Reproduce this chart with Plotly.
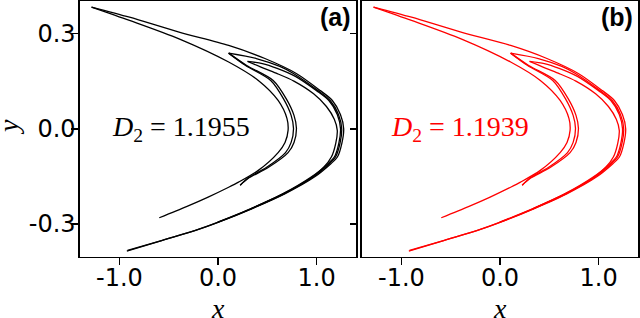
import plotly.graph_objects as go

# ---- data (x, y pairs along each visible strand) ----
outer1_y = [0.383, 0.351, 0.304, 0.262, 0.221, 0.174, 0.12, 0.089, 0.045, 0.0, -0.045, -0.089, -0.110, -0.152, -0.205, -0.252, -0.294, -0.320, -0.351, -0.385]
outer1_x = [-1.283, -0.898, -0.395, 0.108, 0.476, 0.794, 1.038, 1.160, 1.242, 1.275, 1.257, 1.211, 1.145, 0.978, 0.677, 0.342, 0.007, -0.227, -0.563, -0.925]

outer2_y = [0.238, 0.221, 0.196, 0.174, 0.12, 0.089, 0.045, 0.0, -0.045, -0.089, -0.110, -0.152, -0.205, -0.252, -0.294, -0.320, -0.351, -0.383]
outer2_x = [0.108, 0.389, 0.627, 0.765, 1.015, 1.138, 1.222, 1.255, 1.238, 1.192, 1.128, 0.965, 0.668, 0.335, 0.002, -0.230, -0.565, -0.918]

outer3_y = [0.212, 0.205, 0.190, 0.165, 0.12, 0.089, 0.045, 0.0, -0.045, -0.089, -0.110, -0.152, -0.205, -0.252]
outer3_x = [0.30, 0.45, 0.60, 0.785, 1.00, 1.125, 1.21, 1.243, 1.226, 1.18, 1.115, 0.955, 0.662, 0.332]

outer4_y = [0.212, 0.195, 0.175, 0.15, 0.11, 0.07, 0.03, -0.005, -0.045, -0.089, -0.120, -0.152, -0.205, -0.252, -0.294]
outer4_x = [0.30, 0.43, 0.59, 0.77, 0.97, 1.10, 1.18, 1.21, 1.195, 1.15, 1.075, 0.945, 0.655, 0.328, -0.003]

inner_y = [0.383, 0.341, 0.283, 0.210, 0.152, 0.089, 0.032, -0.005, -0.043, -0.075, -0.131, -0.168, -0.184, -0.215, -0.245, -0.280]
inner_x = [-1.283, -0.898, -0.395, 0.108, 0.409, 0.610, 0.700, 0.711, 0.680, 0.610, 0.409, 0.208, 0.108, -0.100, -0.320, -0.596]

hook1_y = [0.238, 0.199, 0.152, 0.094, 0.042, 0.001, -0.043, -0.075, -0.122, -0.156, -0.178]
hook1_x = [0.108, 0.291, 0.560, 0.693, 0.771, 0.796, 0.771, 0.711, 0.509, 0.308, 0.225]

hook2_y = [0.238, 0.199, 0.152, 0.094, 0.042, 0.001, -0.043, -0.075, -0.122, -0.156, -0.178]
hook2_x = [0.108, 0.280, 0.535, 0.665, 0.742, 0.766, 0.742, 0.685, 0.490, 0.300, 0.225]

strands = [
    (outer1_x, outer1_y), (outer2_x, outer2_y), (outer3_x, outer3_y),
    (outer4_x, outer4_y), (inner_x, inner_y), (hook1_x, hook1_y), (hook2_x, hook2_y),
]

panel_labels = ["(a)", "(b)"]
d2_values = ["1.1955", "1.1939"]
colors = ["#000000", "#ff0000"]

x_ticks = [-1.0, 0.0, 1.0]
x_ticktext = ["-1.0", "0.0", "1.0"]
y_ticks = [-0.3, 0.0, 0.3]
y_ticktext = ["-0.3", "0.0", "0.3"]

W, H = 640, 318
fig = go.Figure()

for k, (axx, axy) in enumerate([("x", "y"), ("x2", "y2")]):
    for sx, sy in strands:
        fig.add_trace(go.Scatter(
            x=sx, y=sy, mode="lines", xaxis=axx, yaxis=axy,
            line=dict(color=colors[k], width=1.3, shape="spline", smoothing=0.8),
            showlegend=False, hoverinfo="skip"))

# empty trace to host the inner mirrored ticks of panel (a)
fig.add_trace(go.Scatter(x=[], y=[], xaxis="x", yaxis="y3", showlegend=False))

tickfont = dict(family="DejaVu Sans, Verdana, sans-serif", size=24, color="black")
xr = [-1.4, 1.4]
yr = [-0.402, 0.402]
ydom = [(H - 256.5) / H, (H - 1) / H]

common_x = dict(range=xr, tickvals=x_ticks, ticktext=x_ticktext, ticks="outside", ticklen=7,
                tickwidth=1.5, tickcolor="black", showline=True, linecolor="black", linewidth=1.6,
                mirror=True, showgrid=False, zeroline=False, tickfont=tickfont, automargin=False,
                ticklabelstandoff=-8)
fig.update_layout(
    template="none",
    width=W, height=H, margin=dict(l=0, r=0, t=0, b=0, pad=0),
    paper_bgcolor="white", plot_bgcolor="white",
    xaxis=dict(domain=[80 / W, 356 / W], anchor="y", **common_x),
    xaxis2=dict(domain=[362 / W, 638 / W], anchor="y2", **common_x),
    yaxis=dict(domain=ydom, anchor="x", range=yr, tickvals=y_ticks, ticktext=y_ticktext,
               ticks="outside", ticklen=7, tickwidth=1.5, tickcolor="black",
               showline=True, linecolor="black", linewidth=1.6, mirror=True,
               showgrid=False, zeroline=False, tickfont=tickfont, automargin=False,
               ticklabelstandoff=-9),
    yaxis3=dict(overlaying="y", side="right", anchor="x", range=yr, tickvals=y_ticks,
                ticks="inside", ticklen=6, tickwidth=1.5, tickcolor="black",
                showticklabels=False, showline=False, showgrid=False, zeroline=False,
                automargin=False),
    yaxis2=dict(domain=ydom, anchor="x2", range=yr, tickvals=y_ticks, showticklabels=False,
                ticks="", showline=True, linecolor="black", linewidth=1.6, mirror=True,
                showgrid=False, zeroline=False, automargin=False),
)

serif = "Liberation Serif, Times New Roman, serif"
ann = []
for k, (xref, yref, cx) in enumerate([("x", "y", -0.38), ("x2", "y2", -0.41)]):
    ann.append(dict(xref=xref, yref=yref, x=cx, y=0.0, xanchor="center", yanchor="middle",
                    text="<i>D</i><sub>2</sub> = " + d2_values[k], showarrow=False,
                    font=dict(family=serif, size=28, color=colors[k])))
    ann.append(dict(xref=xref + " domain", yref=yref + " domain", x=0.99, y=1.0,
                    xanchor="right", yanchor="top", text="<b>" + panel_labels[k] + "</b>",
                    showarrow=False, font=dict(family="Liberation Sans, Arial, sans-serif",
                                                size=25, color="black")))
    ann.append(dict(xref=xref + " domain", yref="paper", x=0.5, y=(H - 308) / H,
                    xanchor="center", yanchor="middle", text="<i>x</i>", showarrow=False,
                    font=dict(family=serif, size=28, color="black")))
ann.append(dict(xref="paper", yref="paper", x=8 / W, y=(H - 127) / H, xanchor="center",
                yanchor="middle", text="<i>y</i>", textangle=-90, showarrow=False,
                font=dict(family=serif, size=28, color="black")))
fig.update_layout(annotations=ann)

fig.write_html("out.html", config={"displayModeBar": False, "staticPlot": True},
               post_script="document.body.style.margin='0';document.body.style.overflow='hidden';")
